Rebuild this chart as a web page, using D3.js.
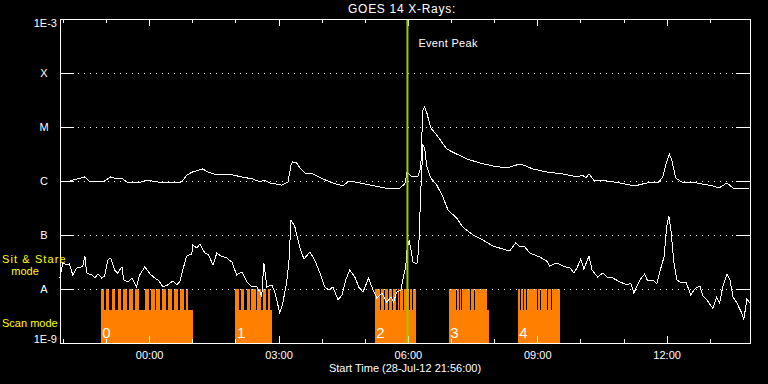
<!DOCTYPE html>
<html><head><meta charset="utf-8">
<script src="https://cdn.jsdelivr.net/npm/d3@7"></script>
<style>
html,body{margin:0;padding:0;background:#000;}
svg{display:block;}
text{font-family:"Liberation Sans",Arial,sans-serif;}
</style></head>
<body>
<svg id="chart" width="768" height="384"></svg>
<script>
// ---------------- DATA ----------------
// times are hours relative to 2012-07-29 00:00 UT; flux in W/m^2
const startTimeUTC = "2012-07-28T21:56:00Z";
const spanHours = 16;
const titleText = "GOES 14 X-Rays:";
const xAxisTitle = "Start Time (28-Jul-12 21:56:00)";
const eventPeakTime = 5.99;
const eventLabel = "Event Peak";

const yTickValues = [1e-9, 1e-8, 1e-7, 1e-6, 1e-5, 1e-4, 1e-3];
const yTickLabels = ["1E-9", "A", "B", "C", "M", "X", "1E-3"];
const gridValues = [1e-8, 1e-7, 1e-6, 1e-5, 1e-4];

// GOES long channel (1-8 A)
const longChannel = [
[-2.07,9.6e-7],[-1.84,1.0e-6],[-1.49,1.19e-6],[-1.37,9.6e-7],[-1.07,9.6e-7],[-0.89,1.19e-6],[-0.75,1.09e-6],
[-0.61,1.09e-6],[-0.52,9.6e-7],[-0.26,9.2e-7],[-0.05,1.04e-6],[0.18,9.6e-7],[0.55,9.2e-7],[0.76,9.6e-7],
[0.87,1.29e-6],[1.01,1.47e-6],[1.24,1.67e-6],[1.36,1.47e-6],[1.57,1.29e-6],[1.71,1.35e-6],[1.94,1.29e-6],
[2.15,1.19e-6],[2.40,1.09e-6],[2.57,9.6e-7],[2.68,1.04e-6],[2.80,9.2e-7],[3.08,8.4e-7],[3.22,9.6e-7],
[3.29,1.98e-6],[3.33,2.25e-6],[3.42,2.15e-6],[3.52,1.67e-6],[3.63,1.35e-6],[3.80,1.35e-6],[4.03,1.09e-6],
[4.26,9.2e-7],[4.49,8.1e-7],[4.63,1.0e-6],[4.89,9.2e-7],[5.12,8.4e-7],[5.47,7.4e-7],[5.81,7.4e-7],
[5.93,8.8e-7],[5.98,1.47e-6],[6.09,1.19e-6],[6.23,1.19e-6],[6.30,1.82e-6],[6.32,5.7e-6],[6.35,2.07e-5],
[6.39,2.35e-5],[6.44,1.82e-5],[6.53,9.6e-6],[6.67,7.1e-6],[6.90,3.91e-6],[7.13,3.16e-6],[7.37,2.56e-6],
[7.67,2.15e-6],[7.97,1.90e-6],[8.29,1.74e-6],[8.52,1.98e-6],[8.66,2.0e-6],[8.90,1.67e-6],[9.22,1.47e-6],
[9.60,1.35e-6],[9.94,1.19e-6],[10.04,1.29e-6],[10.13,1.14e-6],[10.20,1.35e-6],[10.31,1.04e-6],[10.61,1.0e-6],
[10.92,9.2e-7],[11.26,8.1e-7],[11.54,9.2e-7],[11.80,9.2e-7],[11.91,1.19e-6],[12.00,2.25e-6],[12.06,3.16e-6],
[12.12,2.45e-6],[12.21,1.14e-6],[12.35,9.6e-7],[12.70,9.2e-7],[13.07,8.1e-7],[13.21,7.4e-7],[13.40,9.2e-7],
[13.54,7.4e-7],[13.93,7.1e-7]
];

// GOES short channel (0.5-4 A)
const shortChannel = [
[-2.07,1.60e-8],[-2.00,3.03e-8],[-1.91,2.78e-8],[-1.85,2.90e-8],[-1.77,1.82e-8],[-1.68,2.45e-8],[-1.58,2.56e-8],
[-1.54,2.67e-8],[-1.49,4.08e-8],[-1.45,1.98e-8],[-1.33,1.82e-8],[-1.26,1.60e-8],[-1.19,1.90e-8],[-1.10,1.60e-8],
[-1.03,1.74e-8],[-0.96,3.44e-8],[-0.89,3.75e-8],[-0.80,2.25e-8],[-0.73,1.98e-8],[-0.63,2.56e-8],[-0.59,1.47e-8],
[-0.49,1.35e-8],[-0.40,1.60e-8],[-0.29,1.09e-8],[-0.22,1.82e-8],[-0.10,2.56e-8],[0.02,1.90e-8],[0.13,1.60e-8],
[0.23,1.41e-8],[0.32,1.09e-8],[0.43,1.19e-8],[0.55,1.41e-8],[0.64,1.19e-8],[0.71,1.35e-8],[0.78,2.25e-8],
[0.87,4.08e-8],[0.99,4.45e-8],[1.01,6.53e-8],[1.11,5.75e-8],[1.18,6.81e-8],[1.29,4.64e-8],[1.38,4.26e-8],
[1.48,2.78e-8],[1.57,4.64e-8],[1.66,4.08e-8],[1.80,3.75e-8],[1.92,3.16e-8],[2.03,1.82e-8],[2.15,2.07e-8],
[2.27,1.35e-8],[2.38,1.09e-8],[2.50,1.09e-8],[2.57,8.8e-9],[2.61,7.1e-9],[2.66,3.03e-8],[2.73,1.09e-8],
[2.85,1.19e-8],[2.92,8.4e-9],[3.03,3.6e-9],[3.10,5.5e-9],[3.19,1.35e-8],[3.24,3.03e-8],[3.29,1.90e-7],
[3.38,1.41e-7],[3.49,6.0e-8],[3.59,3.59e-8],[3.73,4.84e-8],[3.84,3.44e-8],[3.96,1.98e-8],[4.07,1.09e-8],
[4.17,9.6e-9],[4.26,1.09e-8],[4.38,6.3e-9],[4.47,7.7e-9],[4.56,1.47e-8],[4.65,2.25e-8],[4.77,1.67e-8],
[4.86,1.09e-8],[4.96,8.8e-9],[5.09,1.60e-8],[5.19,9.6e-9],[5.28,6.8e-9],[5.40,8.4e-9],[5.51,5.7e-9],
[5.61,7.1e-9],[5.67,5.7e-9],[5.74,8.8e-9],[5.84,9.6e-9],[5.88,1.47e-8],[5.95,2.56e-8],[5.98,5.28e-8],
[6.03,8.1e-8],[6.12,3.16e-8],[6.21,2.9e-8],[6.25,5.28e-8],[6.30,6.81e-7],[6.35,4.64e-6],[6.39,4.08e-6],
[6.44,1.82e-6],[6.53,1.14e-6],[6.67,8.4e-7],[6.81,5.1e-7],[6.93,2.9e-7],[7.13,2.07e-7],[7.27,1.41e-7],
[7.51,1.0e-7],[7.74,8.1e-8],[7.97,6.26e-8],[8.20,5.5e-8],[8.36,5.06e-8],[8.50,7.1e-8],[8.60,6.0e-8],
[8.71,6.0e-8],[8.83,4.64e-8],[9.06,3.91e-8],[9.22,3.30e-8],[9.29,2.67e-8],[9.45,3.03e-8],[9.59,2.67e-8],
[9.76,2.45e-8],[9.85,1.98e-8],[9.92,2.45e-8],[10.01,3.59e-8],[10.08,2.35e-8],[10.20,4.08e-8],[10.27,2.25e-8],
[10.40,1.67e-8],[10.52,1.98e-8],[10.61,1.67e-8],[10.75,1.60e-8],[10.92,1.35e-8],[11.08,1.19e-8],[11.17,1.29e-8],
[11.24,8.4e-9],[11.38,1.47e-8],[11.49,1.90e-8],[11.56,1.41e-8],[11.68,1.47e-8],[11.77,1.24e-8],[11.84,2.07e-8],
[11.94,3.91e-8],[12.00,1.41e-7],[12.05,2.25e-7],[12.10,1.24e-7],[12.17,3.03e-8],[12.24,1.47e-8],[12.35,1.29e-8],
[12.45,1.35e-8],[12.56,7.7e-9],[12.65,1.0e-8],[12.77,1.14e-8],[12.84,7.4e-9],[12.93,6.3e-9],[13.07,4.4e-9],
[13.16,7.1e-9],[13.23,5.5e-9],[13.30,1.09e-8],[13.40,1.90e-8],[13.47,1.47e-8],[13.54,7.1e-9],[13.63,5.5e-9],
[13.74,3.6e-9],[13.79,2.7e-9],[13.86,6.5e-9],[13.93,5.5e-9]
];

// observing-mode timeline: scan blocks (low bars) and sit&stare intervals (tall bars)
const scanBlocks = [[-1.12,1.01],[2.00,2.86],[5.23,6.18],[6.95,7.89],[8.55,9.52]];
const blockLabels = ["0","1","2","3","4"];
const stareIntervals = [
[-1.12,-1.05],[-1.00,-0.92],[-0.87,-0.78],[-0.73,-0.65],[-0.60,-0.51],[-0.46,-0.38],[-0.33,-0.24],
[-0.10,-0.01],[0.04,0.13],[0.17,0.26],[0.31,0.39],[0.44,0.53],[0.58,0.67],[0.71,0.80],[0.85,0.90],
[2.00,2.08],[2.13,2.21],[2.26,2.33],[2.37,2.47],[2.51,2.60],[2.64,2.71],[2.76,2.81],
[5.23,5.36],[5.38,5.45],[5.48,5.55],[5.57,5.64],[5.66,5.73],[5.76,5.80],[5.82,5.89],[5.92,6.03],[6.06,6.10],[6.13,6.18],
[6.96,7.12],[7.15,7.18],[7.21,7.24],[7.26,7.45],[7.47,7.54],[7.56,7.84],
[8.55,8.61],[8.63,8.68],[8.70,8.74],[8.76,9.00],[9.02,9.07],[9.09,9.23],[9.26,9.31],[9.34,9.40],[9.42,9.52]
];
const stareLevel = 1e-8;
const scanLevel = 4.1e-9;
const modeLabels = ["Sit & Stare", "mode", "Scan mode"];

// ---------------- DRAW ----------------
const day0 = Date.UTC(2012, 6, 29, 0, 0, 0);
const toDate = h => new Date(day0 + h * 3600e3);
const t0 = new Date(startTimeUTC);
const t1 = new Date(t0.getTime() + spanHours * 3600e3);

const L = 60, R = 750, T = 19, B = 343;
const x = d3.scaleUtc().domain([t0, t1]).range([L, R]);
const y = d3.scaleLog().domain([1e-9, 1e-3]).range([B, T]);

const svg = d3.select("#chart");
svg.append("rect").attr("width", 768).attr("height", 384).attr("fill", "#000");

const ORANGE = "#ff8000";
const bars = svg.append("g").attr("shape-rendering", "crispEdges");
bars.selectAll("rect.scan").data(scanBlocks).join("rect").attr("class", "scan")
  .attr("x", d => x(toDate(d[0]))).attr("width", d => x(toDate(d[1])) - x(toDate(d[0])))
  .attr("y", y(scanLevel)).attr("height", y(1e-9) - y(scanLevel)).attr("fill", ORANGE);
bars.selectAll("rect.stare").data(stareIntervals).join("rect").attr("class", "stare")
  .attr("x", d => x(toDate(d[0]))).attr("width", d => x(toDate(d[1])) - x(toDate(d[0])))
  .attr("y", y(stareLevel)).attr("height", y(1e-9) - y(stareLevel)).attr("fill", ORANGE);

// grid (dotted)
svg.append("g").attr("shape-rendering", "crispEdges").selectAll("line").data(gridValues).join("line")
  .attr("x1", L).attr("x2", R).attr("y1", d => Math.round(y(d)) + 0.5).attr("y2", d => Math.round(y(d)) + 0.5)
  .attr("stroke", "#fff").attr("stroke-width", 1).attr("stroke-dasharray", "1,5");

// block labels
svg.append("g").selectAll("text").data(scanBlocks).join("text")
  .attr("x", d => x(toDate(d[0])) + 1.5).attr("y", 338)
  .attr("fill", "#fff").attr("font-size", 15).text((d, i) => blockLabels[i]);

// curves
const line = d3.line().x(d => x(toDate(d[0]))).y(d => y(d[1]));
svg.append("path").datum(longChannel).attr("d", line).attr("fill", "none").attr("stroke", "#fff")
  .attr("stroke-width", 1).attr("shape-rendering", "crispEdges");
svg.append("path").datum(shortChannel).attr("d", line).attr("fill", "none").attr("stroke", "#fff")
  .attr("stroke-width", 1).attr("shape-rendering", "crispEdges");

// axes
function styleAxis(g) {
  g.select(".domain").remove();
  g.selectAll(".tick line").attr("stroke", "#fff");
  g.selectAll("text").attr("fill", "#fff").attr("font-size", 11).attr("font-family", "Liberation Sans, Arial, sans-serif");
  g.attr("shape-rendering", "crispEdges");
}
const hourly = d3.utcHour.every(1).range(t0, t1);
const threeHourly = hourly.filter(d => d.getUTCHours() % 3 === 0);
svg.append("g").attr("transform", `translate(0,${B})`)
  .call(d3.axisBottom(x).tickValues(hourly).tickSize(-4).tickSizeOuter(0).tickFormat(""))
  .call(styleAxis);
svg.append("g").attr("transform", `translate(0,${B})`)
  .call(d3.axisBottom(x).tickValues(threeHourly).tickSize(-7).tickSizeOuter(0).tickPadding(8.5).tickFormat(d3.utcFormat("%H:%M")))
  .call(styleAxis);
svg.append("g").attr("transform", `translate(0,${T})`)
  .call(d3.axisTop(x).tickValues(hourly).tickSize(-4).tickSizeOuter(0).tickFormat(""))
  .call(styleAxis);
svg.append("g").attr("transform", `translate(0,${T})`)
  .call(d3.axisTop(x).tickValues(threeHourly).tickSize(-7).tickSizeOuter(0).tickFormat(""))
  .call(styleAxis);

const yl = svg.append("g").attr("transform", `translate(${L},0)`)
  .call(d3.axisLeft(y).tickValues(yTickValues).tickSize(-14).tickSizeOuter(0).tickPadding(3)
    .tickFormat((d, i) => yTickLabels[i]))
  .call(styleAxis);
yl.selectAll(".tick text").each(function(d, i) {
  const t = d3.select(this);
  const lab = yTickLabels[i];
  if (lab.length === 1) { t.attr("text-anchor", "middle").attr("x", -16); }
  else { t.attr("x", -3); }
  if (i === 0) t.attr("dy", "-0.02em");
  if (i === yTickLabels.length - 1) t.attr("dy", "0.72em");
});
svg.append("g").attr("transform", `translate(${R},0)`)
  .call(d3.axisRight(y).tickValues(yTickValues).tickSize(-14).tickSizeOuter(0).tickFormat(""))
  .call(styleAxis);

// frame
svg.append("rect").attr("x", L + 0.5).attr("y", T + 0.5).attr("width", R - L).attr("height", B - T)
  .attr("fill", "none").attr("stroke", "#fff").attr("stroke-width", 1).attr("shape-rendering", "crispEdges");

// event peak
const ex = x(toDate(eventPeakTime));
svg.append("line").attr("x1", ex).attr("x2", ex).attr("y1", T + 1).attr("y2", B)
  .attr("stroke", "#99cc00").attr("stroke-width", 2);
svg.append("text").attr("x", ex + 11).attr("y", 46.7).attr("fill", "#fff").attr("font-size", 11)
  .attr("letter-spacing", 0.3).text(eventLabel);

// titles
svg.append("text").attr("x", 402).attr("y", 13.3).attr("text-anchor", "middle").attr("fill", "#fff")
  .attr("font-size", 12).attr("letter-spacing", 0.7).text(titleText);
svg.append("text").attr("x", 405).attr("y", 371.7).attr("text-anchor", "middle").attr("fill", "#fff")
  .attr("font-size", 11).text(xAxisTitle);

// mode labels
svg.append("text").attr("x", 2).attr("y", 263.3).attr("fill", "#ffff00").attr("font-size", 11)
  .attr("letter-spacing", 1.1).text(modeLabels[0]);
svg.append("text").attr("x", 25).attr("y", 275.3).attr("text-anchor", "middle").attr("fill", "#ffff00")
  .attr("font-size", 11).text(modeLabels[1]);
svg.append("text").attr("x", 2).attr("y", 327.3).attr("fill", "#ffff00").attr("font-size", 11)
  .text(modeLabels[2]);
</script>
</body></html>
